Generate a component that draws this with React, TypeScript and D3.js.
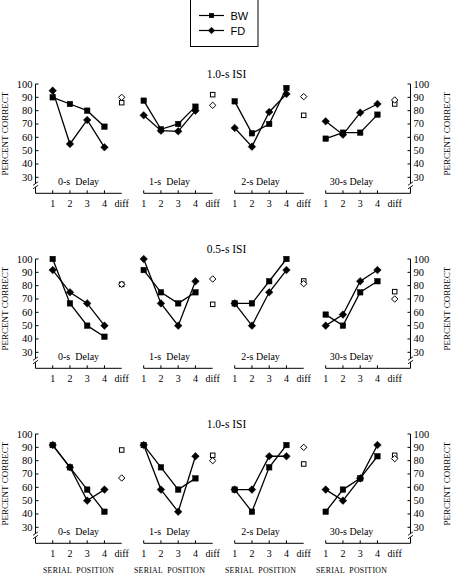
import React from "react";
import * as d3 from "d3";

const positions = ["1", "2", "3", "4", "diff"];
const serialPositions = ["1", "2", "3", "4"];
const delayLabels = ["0-s  Delay", "1-s  Delay", "2-s Delay", "30-s Delay"];
const isiLabels = ["1.0-s ISI", "0.5-s ISI", "1.0-s ISI"];
const yTicks = [30, 40, 50, 60, 70, 80, 90, 100];
const seriesNames = ["BW", "FD"];

// rows (ISI) x panels (delay) x serial position
const bwValues = [
  [[90, 85, 80, 68], [87.5, 66, 70, 83], [87, 63, 70, 97], [59, 63.5, 63.5, 77]],
  [[100, 66.7, 50, 41.7], [91.7, 75, 66.7, 75], [66.7, 66.7, 83.3, 100], [58.3, 50, 75, 83.3]],
  [[91.7, 75, 58.3, 41.7], [91.7, 75, 58.3, 66.7], [58.3, 41.7, 75, 91.7], [41.7, 58.3, 66.7, 83.3]],
];
const fdValues = [
  [[95, 55, 73, 52.5], [76.5, 65, 64.5, 80], [67, 53, 79, 92.5], [72, 62, 78.5, 85]],
  [[91.7, 75, 66.7, 50], [100, 66.7, 50, 83.3], [66.7, 50, 75, 91.7], [50, 58.3, 83.3, 91.7]],
  [[91.7, 75, 50, 58.3], [91.7, 58.3, 41.7, 83.3], [58.3, 58.3, 83.3, 83.3], [58.3, 50, 66.7, 91.7]],
];
const bwDiff = [
  [86, 92, 76.5, 85],
  [81, 66, 83.5, 75.5],
  [88, 84, 77.5, 84],
];
const fdDiff = [
  [90, 84, 90.5, 88],
  [81, 85, 81.5, 70],
  [67, 80, 90, 81.5],
];

const W = 453;
const H = 574;
const serif = "'Liberation Serif', 'Times New Roman', serif";
const sans = "'Liberation Sans', Arial, sans-serif";

const rowTop = [84, 259, 434]; // y of 100
const rowSpan = 93.3; // 100 -> 30
const firstX = 52.7;
const panelStep = 91;
const posSpan = 69;
const leftAxisX = 35.5;
const rightAxisX = 410.5;

function Square({ x, y, s, filled }: { x: number; y: number; s: number; filled: boolean }) {
  return (
    <rect
      x={x - s / 2}
      y={y - s / 2}
      width={s}
      height={s}
      fill={filled ? "#000" : "#fff"}
      stroke="#000"
      strokeWidth={filled ? 0.5 : 1}
    />
  );
}

function Diamond({ x, y, r, filled }: { x: number; y: number; r: number; filled: boolean }) {
  const sym = d3.symbol().type(d3.symbolDiamond2).size((r * r) * 2)();
  return (
    <path
      d={`M${x},${y - r}L${x + r},${y}L${x},${y + r}L${x - r},${y}Z`}
      fill={filled ? "#000" : "#fff"}
      stroke="#000"
      strokeWidth={filled ? 0.5 : 1}
      data-s={sym ? 1 : 0}
    />
  );
}

function YAxis({ y, x, side }: { y: d3.ScaleLinear<number, number>; x: number; side: "left" | "right" }) {
  const y30 = y(30);
  const xAxisY = y30 + 16;
  const dir = side === "left" ? 1 : -1;
  return (
    <g>
      <line x1={x} x2={x} y1={y(100)} y2={y30 + 6} stroke="#000" strokeWidth={1} />
      <line x1={x} x2={x} y1={y30 + 10} y2={xAxisY} stroke="#000" strokeWidth={1} />
      <path d={`M${x - 2.5},${y30 + 8}L${x + 2.5},${y30 + 4.5}`} stroke="#000" strokeWidth={0.9} fill="none" />
      <path d={`M${x - 2.5},${y30 + 11.5}L${x + 2.5},${y30 + 8}`} stroke="#000" strokeWidth={0.9} fill="none" />
      {yTicks.map((t) => (
        <g key={t}>
          <line x1={x} x2={x + dir * 3} y1={y(t)} y2={y(t)} stroke="#000" strokeWidth={1} />
          <text
            x={side === "left" ? x - 3 : x + 3}
            y={y(t) + 3.5}
            textAnchor={side === "left" ? "end" : "start"}
            fontFamily={serif}
            fontSize={10.5}
          >
            {t}
          </text>
        </g>
      ))}
      <text
        transform={`translate(${side === "left" ? 8 : 450},${(y(100) + y30) / 2 + 3}) rotate(-90)`}
        textAnchor="middle"
        fontFamily={serif}
        fontSize={9}
      >
        PERCENT CORRECT
      </text>
    </g>
  );
}

export default function App() {
  const lineGen = d3
    .line<[number, number]>()
    .x((d) => d[0])
    .y((d) => d[1]);

  return (
    <svg
      width={W}
      height={H}
      style={{ position: "absolute", left: 0, top: 0, background: "#fff" }}
    >
      <rect x={0} y={0} width={W} height={H} fill="#fff" />
      {/* Legend */}
      <g>
        <rect x={190.5} y={-0.5} width={67.5} height={47} fill="#fff" stroke="#000" strokeWidth={1} />
        {seriesNames.map((name, i) => {
          const ly = 15.5 + i * 15;
          return (
            <g key={name}>
              <line x1={199} x2={224} y1={ly} y2={ly} stroke="#000" strokeWidth={1.2} />
              {i === 0 ? (
                <Square x={211.5} y={ly} s={4.5} filled />
              ) : (
                <Diamond x={211.5} y={ly} r={3.3} filled />
              )}
              <text x={230.5} y={ly + 4} fontFamily={sans} fontSize={11}>
                {name}
              </text>
            </g>
          );
        })}
      </g>

      {rowTop.map((top, r) => {
        const y = d3.scaleLinear().domain([30, 100]).range([top + rowSpan, top]);
        const xAxisY = y(30) + 16;
        return (
          <g key={r}>
            <text x={226.5} y={top - 6} textAnchor="middle" fontFamily={serif} fontSize={11.5}>
              {isiLabels[r]}
            </text>
            <YAxis y={y} x={leftAxisX} side="left" />
            <YAxis y={y} x={rightAxisX} side="right" />
            {delayLabels.map((dl, p) => {
              const x0 = firstX + p * panelStep;
              const x = d3.scalePoint<string>().domain(positions).range([x0, x0 + posSpan]);
              const xStart = p === 0 ? leftAxisX : (x("1") as number);
              const xEnd = p === 3 ? rightAxisX : (x("diff") as number);
              const bw = serialPositions.map((s, i) => [x(s) as number, y(bwValues[r][p][i])] as [number, number]);
              const fd = serialPositions.map((s, i) => [x(s) as number, y(fdValues[r][p][i])] as [number, number]);
              const cx = ((x("1") as number) + (x("4") as number)) / 2;
              return (
                <g key={p}>
                  <line x1={xStart} x2={xEnd} y1={xAxisY} y2={xAxisY} stroke="#000" strokeWidth={1} />
                  {serialPositions.map((s) => (
                    <line
                      key={s}
                      x1={x(s) as number}
                      x2={x(s) as number}
                      y1={xAxisY}
                      y2={xAxisY - 3}
                      stroke="#000"
                      strokeWidth={1}
                    />
                  ))}
                  {positions.map((s) => (
                    <text
                      key={s}
                      x={x(s) as number}
                      y={xAxisY + 14}
                      textAnchor="middle"
                      fontFamily={serif}
                      fontSize={10}
                    >
                      {s}
                    </text>
                  ))}
                  <text
                    x={cx}
                    y={y(30) + 7.5}
                    textAnchor="middle"
                    fontFamily={serif}
                    fontSize={10}
                    style={{ whiteSpace: "pre" }}
                  >
                    {dl}
                  </text>
                  {r === 2 && (
                    <text
                      x={cx}
                      y={573}
                      textAnchor="middle"
                      fontFamily={serif}
                      fontSize={7.8}
                      letterSpacing={0.3}
                      style={{ whiteSpace: "pre" }}
                    >
                      {"SERIAL  POSITION"}
                    </text>
                  )}
                  <path d={lineGen(bw) || ""} fill="none" stroke="#000" strokeWidth={1.3} />
                  <path d={lineGen(fd) || ""} fill="none" stroke="#000" strokeWidth={1.3} />
                  {bw.map((pt, i) => (
                    <Square key={"b" + i} x={pt[0]} y={pt[1]} s={5.5} filled />
                  ))}
                  {fd.map((pt, i) => (
                    <Diamond key={"f" + i} x={pt[0]} y={pt[1]} r={3.8} filled />
                  ))}
                  <Square x={x("diff") as number} y={y(bwDiff[r][p])} s={4.5} filled={false} />
                  <Diamond x={x("diff") as number} y={y(fdDiff[r][p])} r={3.2} filled={false} />
                </g>
              );
            })}
          </g>
        );
      })}
    </svg>
  );
}
